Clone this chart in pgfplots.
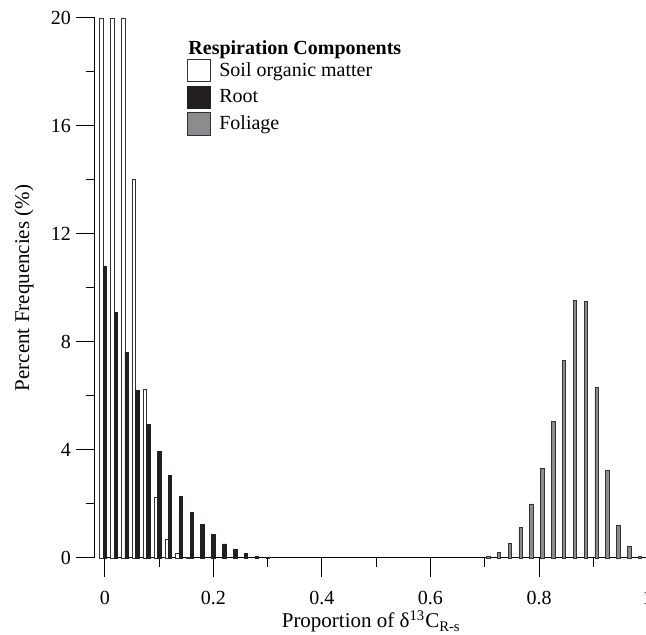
\documentclass[border=0pt]{standalone}
\usepackage{pgfplots}
\pgfplotsset{compat=1.18}
\usepackage{fontspec}
\setmainfont{Liberation Serif}
\definecolor{rootblack}{HTML}{231F20}
\definecolor{folgray}{HTML}{8C8C8E}
\definecolor{edge}{HTML}{333333}
\begin{document}
\begin{tikzpicture}
\begin{axis}[
  name=ax,
  scale only axis,
  width=276.25pt, height=270pt,
  xmin=-0.0184, xmax=1.0,
  ymin=0, ymax=20,
  clip=false,
  axis lines*=left,
  axis line style={black, line width=0.5pt},
  x axis line style={shorten <=2pt},
  tick align=outside,
  major tick length=9.5pt,
  minor tick length=4.5pt,
  tick style={black, line width=0.5pt},
  xtick={0,0.2,0.4,0.6,0.8,1},
  xticklabels={0,0.2,0.4,0.6,0.8,1},
  minor x tick num=1,
  ytick={0,4,8,12,16,20},
  minor y tick num=1,
  /pgf/number format/assume math mode=true,
  ticklabel style={font=\fontsize{10}{12}\selectfont},
  xticklabel style={yshift=-3.5pt},
  yticklabel style={xshift=1pt},
  xlabel={Proportion of δ\textsuperscript{13}C\textsubscript{R-s}},
  ylabel={Percent Frequencies (\%)},
  label style={font=\fontsize{10.5}{12}\selectfont},
  xlabel style={at={(axis description cs:0.5,-0.1296)}, anchor=base},
  ylabel style={at={(axis description cs:-0.1285,0.5)}, anchor=center},
  ybar,
  bar width=0.0065,
  legend image code/.code={\draw[#1,line width=0.5pt] (0pt,-5.6pt) rectangle (11.5pt,5.6pt);},
  legend cell align=left,
  legend style={at={(axis description cs:0.1664,0.925)}, anchor=north west,
    draw=none, fill=none, inner sep=0pt, row sep=1.65pt, column sep=3.5pt,
    nodes={inner sep=0.5pt, text depth=0.15em},
    font=\fontsize{10}{12}\selectfont},
]
\addplot[bar shift=-0.0063, fill=white, draw=edge, line width=0.4pt] coordinates {
 (0,20) (0.02,20) (0.04,20) (0.06,14.04) (0.08,6.26) (0.10,2.23) (0.12,0.70) (0.14,0.18) (0.16,0.03)
};
\addlegendentry{Soil organic matter}
\addplot[bar shift=0, fill=rootblack, draw=rootblack, line width=0.4pt] coordinates {
 (0,10.79) (0.02,9.10) (0.04,7.60) (0.06,6.20) (0.08,4.95) (0.10,3.96) (0.12,3.05) (0.14,2.27)
 (0.16,1.68) (0.18,1.23) (0.20,0.86) (0.22,0.52) (0.24,0.31) (0.26,0.17) (0.28,0.07) (0.30,0.02)
};
\addlegendentry{Root}
\addplot[bar shift=0.0063, fill=folgray, draw=edge, line width=0.4pt] coordinates {
 (0.70,0.05) (0.72,0.19) (0.74,0.54) (0.76,1.13) (0.78,2.00) (0.80,3.31) (0.82,5.05) (0.84,7.32)
 (0.86,9.53) (0.88,9.50) (0.90,6.33) (0.92,3.25) (0.94,1.19) (0.96,0.44) (0.98,0.05)
};
\addlegendentry{Foliage}
\node[anchor=base west, inner sep=0pt, font=\fontsize{10}{12}\selectfont\bfseries]
  at (axis description cs:0.1684,0.9315) {Respiration Components};
\end{axis}
\pgfresetboundingbox
\useasboundingbox ([shift={(-47.5pt,-38.5pt)}]ax.south west) rectangle ([shift={(-0.75pt,9pt)}]ax.north east);
\end{tikzpicture}
\end{document}
